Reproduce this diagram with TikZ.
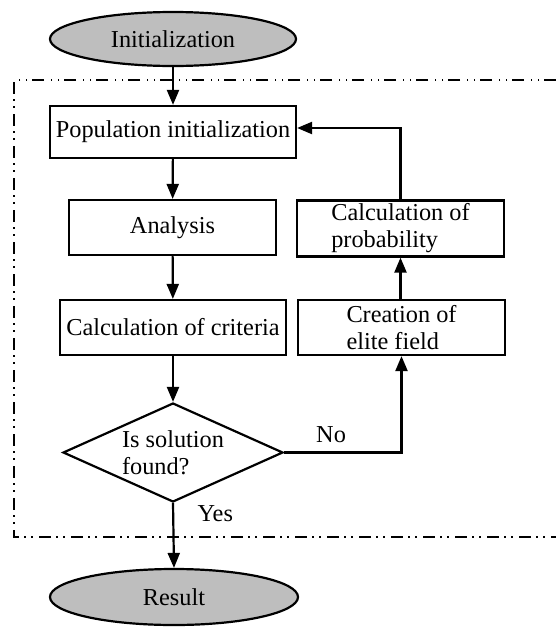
\documentclass[tikz,border=0pt]{standalone}
\usepackage{fontspec}
\setmainfont{Liberation Serif}
\usetikzlibrary{shapes.geometric,arrows.meta,calc}
\definecolor{termgray}{RGB}{190,190,190}
\begin{document}
\begin{tikzpicture}[x=1pt,y=-1pt,
  every node/.style={font=\fontsize{24.3}{27}\selectfont},
  term/.style={ellipse,draw,line width=2.2pt,fill=termgray,inner sep=0pt},
  procbox/.style={rectangle,draw,line width=2.2pt,inner sep=0pt,align=center},
  decision/.style={diamond,draw,line width=2.2pt,inner sep=0pt,minimum width=220pt,minimum height=99pt},
  flow/.style={line width=2.2pt,-{Triangle[length=15pt,width=12pt]}},
  frame/.style={line width=2.2pt,dash pattern=on 12pt off 5pt on 1.5pt off 5.5pt on 1.5pt off 6.5pt}
]
\useasboundingbox (0,0) rectangle (555,627);
% dash-dot frame
\coordinate (ftr) at (556,80);
\coordinate (ftl) at (14,80);
\coordinate (fbl) at (14,537);
\coordinate (fbr) at (556,537);
\draw[frame] (ftr) -- (ftl) -- (fbl) -- (fbr);

\node[term,minimum width=246pt,minimum height=54pt] (init) at (173,39) {Initialization};
\node[procbox,minimum width=246pt,minimum height=52pt] (pop) at (173,132) {Population initialization};
\node[procbox,minimum width=207pt,minimum height=55pt] (ana) at (172.5,227.5) {Analysis};
\node[procbox,minimum width=226pt,minimum height=55pt] (crit) at (173,327.5) {Calculation of criteria};
\node[decision] (dia) at (173,452.5) {};
\node[align=left,inner sep=0pt] (diatext) at (173,452.5) {Is solution\\found?};
\node[procbox,minimum width=207pt,minimum height=56pt,align=left] (prob) at (400.5,228.5) {Calculation of\\probability};
\node[procbox,minimum width=207pt,minimum height=55pt,align=left] (elite) at (401.5,327.5) {Creation of\\elite field};
\node[term,minimum width=248pt,minimum height=56pt] (res) at (174,597) {Result};

\draw[flow] (init) -- (pop);
\draw[flow] (pop) -- (ana);
\draw[flow] (ana) -- (crit);
\draw[flow] (crit) -- (dia.north);
\draw[flow] (dia.south) -- node[right,pos=0.17,xshift=20pt] (yes) {Yes} (res.north);
\draw[flow] (dia.east) -- node[above,pos=0.4,yshift=5pt] (no) {No} (dia.east -| elite.south) -- (elite.south);
\draw[flow] (elite.north -| prob.south) -- (prob.south);
\draw[flow] (prob.north) |- ([yshift=4pt]pop.east);
\end{tikzpicture}
\end{document}
